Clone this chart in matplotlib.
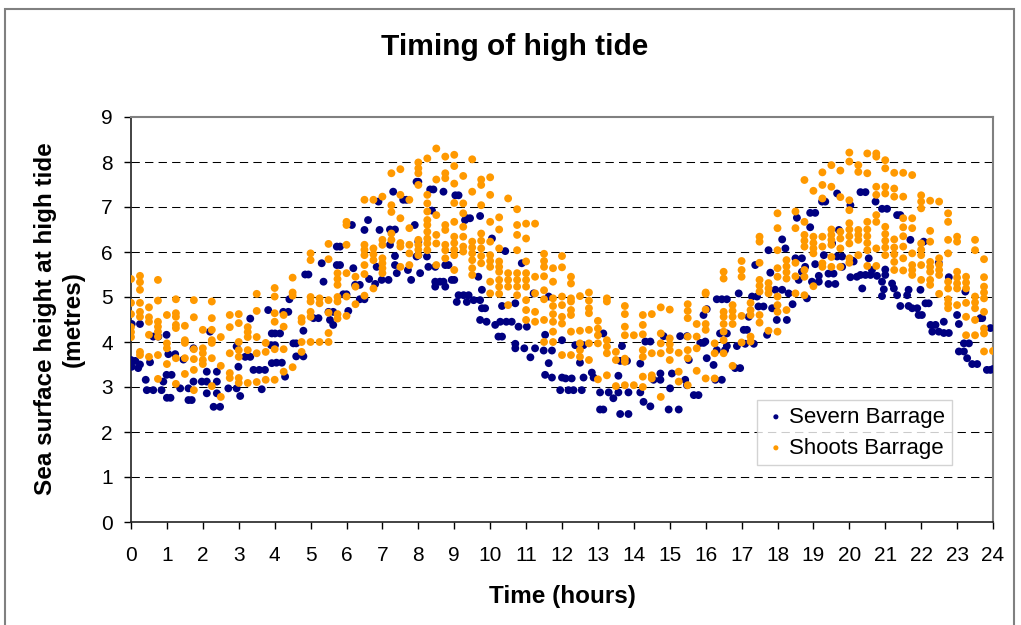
import matplotlib
matplotlib.use("Agg")
import matplotlib.pyplot as plt
from matplotlib.patches import Rectangle

plt.rcParams['font.family'] = ['Liberation Sans', 'DejaVu Sans']

title = "Timing of high tide"
x_label = "Time (hours)"
y_label = "Sea surface height at high tide\n(metres)"
series_names = ["Severn Barrage", "Shoots Barrage"]
x_ticks = list(range(0, 25))
y_ticks = list(range(0, 10))

# Severn Barrage: (time in hours, height in metres)
severn_points = [
    (0.02, 4.4), (0.25, 4.4), (0.0, 3.6), (0.12, 3.58), (0.02, 3.45), (0.2, 3.42), (0.25, 3.5),
    (0.44, 2.93), (0.62, 2.93), (0.85, 2.93), (0.41, 3.16), (0.62, 4.12), (0.76, 4.12), (0.53, 3.55),
    (0.99, 4.16), (1.04, 3.73), (1.23, 3.73), (0.99, 3.27), (1.13, 3.27), (1.0, 2.76), (1.1, 2.76),
    (0.9, 3.12), (1.37, 2.97), (1.6, 2.97), (1.6, 2.71), (1.69, 2.71), (1.46, 3.61), (1.74, 3.86),
    (1.74, 3.12), (1.97, 3.12), (2.11, 3.34), (2.39, 3.34), (2.11, 3.12), (2.39, 3.12), (2.11, 2.86),
    (2.39, 2.86), (2.3, 2.56), (2.48, 2.56), (2.2, 4.23), (2.71, 2.97), (2.94, 2.97), (2.94, 3.9),
    (2.99, 3.45), (3.04, 2.8), (3.18, 3.67), (3.32, 3.67), (3.32, 4.52), (3.41, 3.38), (3.57, 3.38),
    (3.73, 3.38), (3.64, 2.95), (3.82, 4.71), (3.92, 4.19), (3.92, 3.53),
    (4.05, 3.54), (4.2, 3.54), (4.01, 4.19), (4.15, 4.19), (4.24, 4.67), (4.38, 4.67), (4.29, 3.23),
    (3.9, 3.93), (4.01, 3.93), (4.41, 4.95), (4.52, 3.97), (4.6, 3.97), (4.6, 3.68), (4.8, 3.68),
    (4.8, 4.25), (4.85, 5.5), (4.94, 5.5), (5.08, 4.53), (5.22, 4.53), (5.31, 5.75), (5.36, 5.34),
    (5.5, 4.67), (5.63, 4.67), (5.54, 4.49), (5.63, 4.38), (5.73, 6.12), (5.82, 6.12), (5.73, 5.71),
    (5.82, 5.71), (5.91, 5.06), (6.0, 5.06), (6.05, 4.69), (6.15, 6.6), (6.19, 5.64), (6.24, 5.27),
    (6.37, 5.27), (6.37, 4.95), (6.5, 4.95), (6.5, 6.49), (6.6, 6.71), (6.63, 5.4), (6.8, 5.29),
    (6.84, 5.67), (6.89, 7.12), (6.92, 6.49), (6.98, 5.38), (7.17, 5.38), (7.21, 6.5), (7.35, 6.5),
    (7.21, 6.16), (7.3, 7.34), (7.35, 5.91), (7.35, 5.71), (7.4, 5.53), (7.58, 7.16), (7.67, 7.16),
    (7.71, 5.6), (7.8, 5.38), (7.9, 6.6), (7.95, 5.9), (7.95, 7.56),
    (8.0, 7.56), (8.0, 6.23), (8.0, 5.93), (8.05, 5.53), (8.33, 7.39), (8.42, 7.39), (8.38, 6.92),
    (8.7, 7.34), (9.03, 7.26), (9.12, 7.26), (8.28, 5.67), (8.47, 5.67), (8.24, 5.9), (8.47, 5.34),
    (8.6, 5.34), (8.7, 5.34), (8.47, 5.23), (8.75, 5.23), (8.75, 5.71), (8.84, 5.71), (8.93, 5.38),
    (9.0, 5.38), (9.12, 5.04), (9.26, 5.04), (9.4, 5.04), (9.07, 4.89), (9.35, 4.89), (9.3, 6.71),
    (9.35, 6.75), (9.44, 6.75), (9.54, 4.93), (9.72, 4.93), (9.67, 5.45), (9.72, 6.8), (9.77, 5.16),
    (9.77, 4.75), (9.86, 4.75), (9.72, 4.49), (9.9, 4.45), (10.14, 4.38), (10.05, 6.3), (10.23, 4.12),
    (10.33, 4.12), (10.28, 4.45), (10.45, 4.45), (10.6, 4.45), (10.33, 4.8), (10.42, 6.02),
    (10.7, 4.86), (10.7, 3.96), (10.79, 4.34), (11.02, 4.34), (10.88, 5.75), (10.7, 3.86),
    (10.95, 3.86), (11.25, 3.86), (11.12, 3.66), (11.21, 5.08), (11.49, 3.81), (11.72, 3.81),
    (11.53, 4.16), (11.63, 3.53), (11.53, 3.27), (11.72, 3.21), (12.0, 3.21), (12.0, 4.04),
    (11.95, 2.93), (11.63, 5.01),
    (12.1, 3.19), (12.27, 3.19), (12.18, 2.93), (12.32, 2.93), (12.55, 2.93), (12.37, 3.93),
    (12.6, 3.93), (12.5, 3.54), (12.6, 3.21), (12.88, 3.21), (12.83, 3.32), (13.06, 2.5), (13.15, 2.5),
    (13.06, 2.88), (13.3, 2.88), (13.57, 2.88), (13.15, 4.19), (13.43, 2.75), (13.57, 3.25),
    (13.67, 3.91), (13.62, 3.58), (13.81, 3.58), (13.62, 2.4), (13.85, 2.4), (13.85, 2.88),
    (14.18, 2.88), (14.18, 3.52), (14.27, 2.67), (14.46, 2.57), (14.32, 4.01), (14.46, 4.01),
    (14.55, 3.16), (14.74, 3.16), (14.74, 3.3), (15.06, 3.3), (14.83, 4.13), (15.01, 2.97),
    (14.97, 2.5), (15.25, 2.5), (15.29, 4.13), (15.48, 4.13), (15.53, 3.6), (15.43, 3.16),
    (15.48, 3.04), (15.67, 2.82), (15.8, 2.82), (15.85, 3.98), (15.94, 3.98), (15.94, 4.6),
    (16.03, 4.73), (16.03, 3.64),
    (15.99, 4.01), (16.22, 3.49), (16.27, 3.16), (16.45, 3.16), (16.31, 3.82), (16.54, 3.82),
    (16.4, 4.19), (16.59, 4.19), (16.31, 4.95), (16.45, 4.95), (16.59, 4.95), (16.59, 3.91),
    (16.87, 3.91), (16.82, 3.42), (16.96, 3.42), (16.92, 5.08), (17.06, 4.27), (17.15, 4.27),
    (17.1, 3.96), (17.34, 3.96), (17.2, 4.56), (17.29, 5.01), (17.43, 5.01), (17.38, 5.71),
    (17.47, 4.79), (17.61, 4.79), (17.71, 4.16), (17.75, 6.04), (17.8, 5.54), (17.85, 4.75),
    (17.94, 4.75), (17.94, 5.16), (18.13, 5.16), (17.98, 4.49), (18.26, 4.49), (18.13, 6.28),
    (18.22, 6.08), (18.31, 5.08), (18.42, 4.84), (18.5, 5.86), (18.68, 5.86), (18.54, 6.76),
    (18.59, 5.38), (18.68, 5.56), (18.77, 5.67), (18.82, 4.97), (18.91, 6.55), (18.91, 6.87),
    (19.05, 6.87), (18.96, 5.34), (19.15, 5.34), (19.05, 5.73), (19.15, 5.47), (19.24, 7.12),
    (19.33, 7.12), (19.29, 5.93), (19.42, 5.52), (19.56, 5.52), (19.42, 5.29), (19.61, 5.29),
    (19.52, 6.19), (19.66, 7.3), (19.66, 5.9), (19.8, 5.9), (19.71, 6.49), (19.8, 5.67),
    (20.03, 7.04), (20.08, 5.81), (20.03, 5.44),
    (20.21, 5.45), (20.12, 5.79), (20.31, 7.33), (20.45, 7.33), (20.36, 5.19), (20.31, 5.49),
    (20.45, 5.49), (20.59, 5.49), (20.54, 5.86), (20.63, 5.6), (20.77, 5.47), (20.91, 5.34),
    (20.73, 7.12), (20.91, 6.96), (21.05, 6.96), (20.96, 5.17), (21.0, 5.49), (21.19, 5.3),
    (21.0, 5.61), (20.91, 5.02), (21.24, 5.19), (21.33, 6.82), (21.42, 6.82), (21.33, 5.04),
    (21.61, 5.04), (21.42, 4.8), (21.65, 4.8), (21.65, 5.16), (21.7, 6.27), (21.75, 4.75),
    (21.89, 4.75), (21.93, 4.6), (22.02, 4.6), (21.98, 5.16), (22.07, 6.23), (22.12, 4.86),
    (22.21, 4.86), (22.26, 4.38), (22.4, 4.38), (22.31, 4.23), (22.49, 4.23), (22.49, 5.76),
    (22.63, 4.45), (22.63, 4.2), (22.77, 4.2), (22.77, 5.44), (23.0, 4.6), (23.05, 3.79),
    (23.19, 3.79), (23.05, 4.4), (23.19, 3.97), (23.33, 3.97), (23.23, 5.12), (23.28, 3.64),
    (23.42, 3.51), (23.56, 3.51), (23.65, 4.53), (23.7, 4.53), (23.83, 3.38), (23.93, 3.38),
    (23.93, 4.31), (24.0, 3.4),
]

# Shoots Barrage: heights read at each quarter-hour column
shoots_times = [i * 0.25 for i in range(97)]
shoots_heights = [
    [5.4, 4.87, 4.62, 4.33, 4.22, 4.11],
    [5.47, 5.33, 5.16, 4.87, 4.67, 4.56, 3.78, 3.71],
    [4.77, 4.55, 4.45, 4.16, 3.67],
    [5.38, 4.92, 4.45, 4.34, 4.23, 4.12, 3.71, 3.18],
    [4.6, 3.97, 3.86, 3.51],
    [4.95, 4.64, 4.56, 4.38, 4.31, 3.64, 3.07],
    [4.36, 4.04, 3.98, 3.64, 3.29],
    [4.93, 4.55, 3.84, 3.62, 3.38, 2.93],
    [4.27, 3.86, 3.75, 3.6, 3.51],
    [4.9, 4.53, 4.27, 4.04, 3.98, 3.64, 3.02],
    [4.11, 3.47, 2.78],
    [4.6, 4.33, 3.75, 3.31, 3.2],
    [4.62, 4.42, 4.0, 3.82, 3.67, 3.2, 3.09],
    [4.33, 4.22, 4.11, 3.82, 3.09],
    [5.07, 4.69, 4.11, 3.75, 3.11],
    [3.98, 3.78, 3.16],
    [5.2, 5.01, 4.64, 4.45, 3.84, 3.16],
    [4.6, 4.34, 3.84, 3.34],
    [5.43, 5.1, 5.03, 3.44],
    [4.53, 4.45, 4.0, 3.78],
    [5.97, 5.82, 5.0, 4.9, 4.67, 4.56, 4.0],
    [4.97, 4.86, 4.0],
    [6.18, 5.84, 4.93, 4.65, 4.2, 4.0],
    [5.53, 5.4, 5.27, 5.0, 4.9, 4.62, 4.52],
    [6.67, 6.6, 6.16, 5.53, 5.01, 4.58],
    [5.45, 5.23, 4.84],
    [7.16, 6.16, 6.05, 5.93, 5.71, 5.51, 5.03],
    [7.16, 6.08, 5.95, 5.82, 5.19],
    [7.23, 6.27, 6.16, 5.86, 5.75, 5.64, 5.53],
    [7.75, 7.04, 6.89, 6.41, 6.27],
    [7.84, 7.27, 6.75, 6.2, 6.12, 5.67],
    [7.16, 6.53, 6.16, 5.97, 5.71],
    [7.99, 7.86, 7.75, 7.49, 6.27, 6.16, 6.05, 5.93],
    [8.08, 7.27, 7.08, 6.9, 6.71, 6.6, 6.45, 6.3, 6.19, 6.04],
    [8.3, 7.61, 6.82, 6.38, 6.19, 5.71],
    [8.12, 7.75, 7.64, 6.6, 6.49, 6.16, 6.04, 5.86],
    [8.16, 7.91, 7.52, 7.09, 6.67, 6.34, 6.2, 6.05, 5.93, 5.6],
    [7.69, 7.08, 6.86, 6.56, 6.34, 6.12, 6.01],
    [8.06, 7.34, 6.23, 6.1, 5.97, 5.82, 5.64, 5.49],
    [7.61, 7.49, 7.04, 6.41, 6.25, 6.08, 5.91, 5.75],
    [7.66, 7.27, 6.67, 6.23, 5.93, 5.8, 5.67, 5.34, 5.08],
    [6.77, 6.5, 6.08, 5.79, 5.67, 5.56, 5.38, 5.23, 5.07],
    [7.19, 5.53, 5.38, 5.23, 4.82],
    [6.95, 6.6, 6.38, 6.04, 5.53, 5.38, 5.23, 5.04],
    [6.63, 6.3, 5.79, 5.53, 5.38, 5.23, 4.93, 4.71, 4.49],
    [6.63, 5.45, 5.08, 4.67, 4.45],
    [5.96, 5.8, 5.67, 5.46, 5.15, 4.95, 4.49, 4.0],
    [5.64, 5.34, 4.97, 4.8, 4.62, 4.45, 4.23, 4.0],
    [5.91, 5.66, 5.01, 4.82, 4.56, 4.41, 3.71],
    [5.45, 5.3, 4.97, 4.9, 4.71, 4.6, 4.23, 3.71],
    [5.02, 4.25, 3.97, 3.82, 3.67],
    [5.1, 4.92, 4.75, 4.64, 4.27, 3.97, 3.6],
    [4.47, 4.3, 4.15, 3.97, 3.17],
    [4.97, 4.9, 4.04, 3.9, 3.75, 3.26],
    [3.78, 3.6, 3.02],
    [4.8, 4.62, 4.34, 4.15, 3.63, 3.56, 3.04],
    [4.15, 3.04],
    [4.6, 4.38, 4.17, 3.82, 3.67, 3.23, 3.0],
    [4.62, 3.75, 3.26, 3.19],
    [4.77, 4.19, 3.97, 3.75, 2.78],
    [4.72, 4.08, 3.95, 3.82, 3.6],
    [3.76, 3.34, 3.12],
    [4.84, 4.69, 4.53, 4.12, 3.82, 3.64, 3.04],
    [4.4, 4.12, 3.86, 3.36],
    [5.1, 5.07, 4.72, 4.4, 4.27, 3.19],
    [3.97, 3.75, 3.19],
    [5.56, 5.41, 4.67, 4.56, 4.4, 4.23, 4.04, 3.75],
    [4.82, 4.69, 4.56, 4.4, 3.47],
    [5.8, 5.6, 5.45, 4.58, 3.99],
    [4.87, 4.71, 4.6, 4.12, 4.01],
    [6.34, 6.23, 5.76, 5.38, 5.25, 5.12, 4.6, 4.43],
    [5.31, 5.19, 5.08, 4.25],
    [6.86, 6.53, 6.04, 5.64, 5.45, 5.01, 4.82, 4.67, 4.23],
    [5.82, 5.68, 5.55, 5.41, 4.71],
    [6.9, 6.53, 5.76, 5.46, 5.08],
    [7.6, 6.67, 6.38, 6.25, 6.12, 5.6, 5.45, 5.04],
    [7.36, 6.34, 6.2, 6.08, 5.97, 5.24],
    [7.77, 7.49, 7.19, 6.34, 6.12, 5.75, 5.67],
    [7.93, 7.45, 6.5, 6.38, 6.27, 6.16, 5.89, 5.67],
    [7.81, 7.22, 6.45, 6.3, 6.08, 5.67],
    [8.21, 8.01, 7.15, 6.93, 6.64, 6.5, 6.35, 6.19, 5.86, 5.76],
    [7.93, 7.78, 6.49, 6.38, 6.27, 5.93],
    [8.19, 7.75, 6.67, 6.5, 6.35, 6.2, 6.04, 5.69],
    [8.19, 8.12, 7.45, 7.27, 6.82, 6.67, 6.08, 5.69],
    [8.04, 7.86, 7.45, 7.3, 6.56, 6.4, 6.25, 6.1, 5.93],
    [7.76, 7.41, 7.23, 6.28, 6.1, 5.95, 5.78, 5.6],
    [7.76, 7.23, 6.75, 6.55, 6.35, 6.12, 5.86, 5.59],
    [7.71, 6.75, 6.53, 5.97, 5.71, 5.6, 5.49],
    [7.26, 7.12, 6.97, 6.19, 6.05, 5.93, 5.71, 5.38],
    [7.14, 6.47, 6.23, 5.78, 5.67, 5.56, 5.38, 5.27],
    [7.12, 5.86, 5.72, 5.6, 5.49, 5.07],
    [6.86, 6.67, 6.27, 5.97, 5.34, 5.19, 4.95, 4.85, 4.75],
    [6.34, 6.23, 5.56, 5.43, 5.3, 5.19, 4.82],
    [5.45, 5.32, 5.19, 4.87, 4.56, 4.15],
    [6.27, 6.04, 5.01, 4.88, 4.75, 4.49, 4.15],
    [5.84, 5.44, 5.23, 5.1, 4.97, 4.67, 4.3, 4.19, 3.79],
    [3.8],
]

severn_x = [p[0] for p in severn_points]
severn_y = [p[1] for p in severn_points]
shoots_x = [t for t, hs in zip(shoots_times, shoots_heights) for _ in hs]
shoots_y = [h for hs in shoots_heights for h in hs]

W, H = 1021, 625
fig = plt.figure(figsize=(W / 100, H / 100), dpi=100)
fig.patch.set_facecolor('white')

# outer chart border
fig.patches.append(Rectangle((5 / W, -0.02), 1009 / W, 1 - 9 / H + 0.02,
                             transform=fig.transFigure, fill=False,
                             edgecolor='#808080', linewidth=1.5))

ax = fig.add_axes([131 / W, 1 - 522 / H, (993 - 131) / W, (522 - 117) / H])
ax.set_xlim(0, 24)
ax.set_ylim(0, 9)

for yv in y_ticks[1:-1]:
    ax.axhline(yv, color='black', linewidth=0.75, dashes=(8, 5), zorder=1)

ax.scatter(severn_x, severn_y, s=32, color='#000080', edgecolors='none',
           label=series_names[0], zorder=3)
ax.scatter(shoots_x, shoots_y, s=32, color='#FF9900', edgecolors='none',
           label=series_names[1], zorder=4)

ax.set_xticks(x_ticks)
ax.set_yticks(y_ticks)
ax.tick_params(axis='x', direction='out', length=5, width=1, pad=12, labelsize=15, colors='black')
ax.tick_params(axis='y', direction='out', length=5, width=1, pad=8, labelsize=15, colors='black')

for side in ['left', 'bottom']:
    ax.spines[side].set_color('#222222')
    ax.spines[side].set_linewidth(1.2)
for side in ['top', 'right']:
    ax.spines[side].set_color('#808080')
    ax.spines[side].set_linewidth(1.5)

fig.text(515 / W, 1 - 47 / H, title, ha='center', va='center', fontsize=21.5, fontweight='bold')
fig.text(562 / W, 1 - 596 / H, x_label, ha='center', va='center', fontsize=17.5, fontweight='bold')
fig.text(59 / W, 1 - 319 / H, y_label, ha='center', va='center', rotation=90,
         fontsize=17.5, fontweight='bold', multialignment='center', linespacing=1.25)

leg = ax.legend(loc='upper left', bbox_to_anchor=(757 / W, 1 - 400 / H),
                bbox_transform=fig.transFigure, fontsize=16, frameon=True,
                fancybox=False, edgecolor='#c8c8c8', markerscale=0.65,
                handletextpad=0.05, borderpad=0.3, labelspacing=0.45,
                handlelength=1.1, borderaxespad=0)
leg.get_frame().set_linewidth(1.0)

fig.savefig('out.png', dpi=100, facecolor='white')
